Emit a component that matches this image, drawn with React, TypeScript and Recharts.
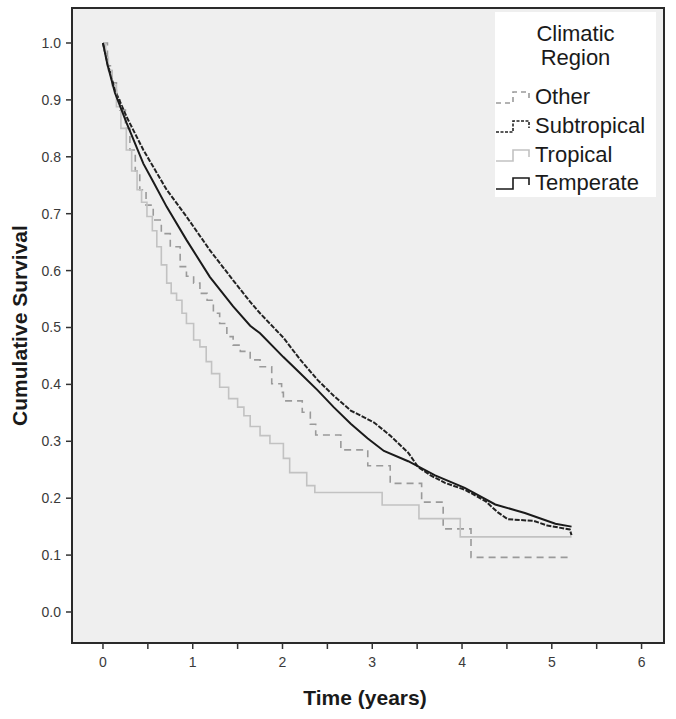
import React from "react";
import { LineChart, Line, XAxis, YAxis, ReferenceArea } from "recharts";

// ---- data ----
const seriesNames = ["Other", "Subtropical", "Tropical", "Temperate"];

const temperateT = [0, 0.05, 0.134, 0.264, 0.45, 0.56, 0.71, 0.93, 1.19, 1.45, 1.64, 1.75, 2.01, 2.2, 2.39, 2.57, 2.76, 2.95, 3.13, 3.4, 3.7, 4.03, 4.37, 4.7, 5.04, 5.22];
const temperateS = [1.0, 0.962, 0.912, 0.859, 0.788, 0.756, 0.712, 0.654, 0.589, 0.537, 0.503, 0.49, 0.448, 0.419, 0.39, 0.36, 0.331, 0.305, 0.283, 0.265, 0.24, 0.218, 0.189, 0.174, 0.155, 0.15];

const subtropicalT = [0, 0.05, 0.134, 0.264, 0.45, 0.71, 0.93, 1.19, 1.45, 1.64, 1.75, 2.01, 2.2, 2.39, 2.57, 2.76, 3.02, 3.2, 3.4, 3.51, 3.65, 3.81, 4.03, 4.26, 4.4, 4.51, 4.8, 4.95, 5.2, 5.22];
const subtropicalS = [1.0, 0.965, 0.917, 0.87, 0.812, 0.742, 0.695, 0.636, 0.583, 0.545, 0.525, 0.482, 0.443, 0.408, 0.38, 0.354, 0.333, 0.31, 0.28, 0.255, 0.24, 0.227, 0.215, 0.195, 0.175, 0.163, 0.16, 0.152, 0.145, 0.135];

const otherT = [0, 0.05, 0.1, 0.15, 0.19, 0.25, 0.3, 0.36, 0.41, 0.48, 0.56, 0.65, 0.75, 0.86, 0.93, 1.01, 1.08, 1.16, 1.23, 1.3, 1.38, 1.45, 1.53, 1.64, 1.75, 1.88, 1.99, 2.01, 2.22, 2.31, 2.37, 2.65, 2.95, 3.2, 3.55, 3.79, 4.1, 5.22];
const otherS = [1.0, 0.96, 0.93, 0.9, 0.882, 0.85, 0.812, 0.775, 0.742, 0.715, 0.689, 0.665, 0.642, 0.607, 0.59, 0.578, 0.56, 0.548, 0.525, 0.507, 0.484, 0.469, 0.458, 0.443, 0.431, 0.401, 0.386, 0.371, 0.351, 0.33, 0.311, 0.285, 0.257, 0.226, 0.193, 0.146, 0.096, 0.096];

const tropicalT = [0, 0.03, 0.06, 0.1, 0.15, 0.2, 0.26, 0.32, 0.38, 0.43, 0.49, 0.55, 0.6, 0.65, 0.71, 0.76, 0.82, 0.88, 0.93, 1.01, 1.08, 1.15, 1.21, 1.3, 1.4, 1.5, 1.57, 1.64, 1.75, 1.86, 2.01, 2.08, 2.27, 2.36, 3.11, 3.52, 3.98, 5.22];
const tropicalS = [1.0, 0.975, 0.952, 0.925, 0.888, 0.85, 0.812, 0.775, 0.742, 0.72, 0.695, 0.67, 0.642, 0.61, 0.578, 0.56, 0.548, 0.525, 0.507, 0.478, 0.466, 0.44, 0.419, 0.395, 0.375, 0.36, 0.345, 0.326, 0.31, 0.296, 0.27, 0.245, 0.222, 0.21, 0.188, 0.164, 0.132, 0.132];

const xTicks = [0, 0.5, 1, 1.5, 2, 2.5, 3, 3.5, 4, 4.5, 5, 5.5, 6];
const yTicks = [0, 0.1, 0.2, 0.3, 0.4, 0.5, 0.6, 0.7, 0.8, 0.9, 1.0];
const xDomain = [-0.345, 6.25];
const yDomain = [-0.0545, 1.0615];

const zip = (ts: number[], ss: number[]) => ts.map((t, i) => ({ t, s: ss[i] }));
const otherData = zip(otherT, otherS);
const subtropicalData = zip(subtropicalT, subtropicalS);
const tropicalData = zip(tropicalT, tropicalS);
const temperateData = zip(temperateT, temperateS);

const FONT = "'Liberation Sans', Arial, Helvetica, sans-serif";

const styles = [
  { color: "#9a9a9a", dash: "7 5", width: 1.6, type: "stepAfter" },
  { color: "#222222", dash: "5 1.5", width: 2, type: "linear" },
  { color: "#c2c2c2", dash: undefined, width: 1.6, type: "stepAfter" },
  { color: "#1a1a1a", dash: undefined, width: 2, type: "linear" },
];

const YTitle = (props: any) => {
  const vb = props.viewBox;
  const cx = vb.x + 19;
  const cy = vb.y + vb.height / 2;
  return (
    <text x={cx} y={cy} transform={`rotate(-90 ${cx} ${cy})`} textAnchor="middle" dominantBaseline="central"
      style={{ fontFamily: FONT, fontWeight: "bold", fontSize: 21, fill: "#1a1a1a" }}>
      Cumulative Survival
    </text>
  );
};

const XTitle = (props: any) => {
  const vb = props.viewBox;
  const cx = vb.x + vb.width / 2 - 3;
  const cy = vb.y + 54;
  return (
    <text x={cx} y={cy} textAnchor="middle" dominantBaseline="central"
      style={{ fontFamily: FONT, fontWeight: "bold", fontSize: 21, fill: "#1a1a1a" }}>
      Time (years)
    </text>
  );
};

const LegendBox = () => (
  <div style={{ position: "absolute", left: 495, top: 12, width: 161, height: 185, background: "#ffffff", fontFamily: FONT, color: "#1a1a1a" }}>
    <div style={{ textAlign: "center", fontSize: 22, lineHeight: "24px", paddingTop: 10 }}>
      Climatic<br />Region
    </div>
    <div style={{ marginTop: 13 }}>
      {seriesNames.map((n, i) => (
        <div key={n} style={{ display: "flex", alignItems: "center", height: 28.7 }}>
          <svg width={40} height={16} style={{ flex: "none" }}>
            <path d="M1 14 H18 V3 H34 V10" fill="none" stroke={styles[i].color} strokeWidth={1.6}
              strokeDasharray={i === 0 ? "5 4" : i === 1 ? "3 1.5" : undefined} />
          </svg>
          <span style={{ fontSize: 22, lineHeight: "24px" }}>{n}</span>
        </div>
      ))}
    </div>
  </div>
);

export default function App() {
  const datasets = [otherData, subtropicalData, tropicalData, temperateData];
  return (
    <div style={{ position: "absolute", left: 0, top: 0, width: 676, height: 719, background: "#ffffff" }}>
      <LineChart width={676} height={719} margin={{ top: 8, right: 12, bottom: 0, left: 0 }}>
        <XAxis dataKey="t" type="number" domain={xDomain} ticks={xTicks} allowDataOverflow
          height={76} axisLine={false} tickSize={6} tickMargin={8}
          tickLine={{ stroke: "#333", strokeWidth: 1.5 }}
          tick={{ fill: "#3a3a3a", fontSize: 14, fontFamily: FONT }}
          tickFormatter={(v: number) => (Number.isInteger(v) ? String(v) : "")}
          label={<XTitle />} />
        <YAxis type="number" domain={yDomain} ticks={yTicks} allowDataOverflow
          width={72} axisLine={false} tickSize={6} tickMargin={5}
          tickLine={{ stroke: "#333", strokeWidth: 1.5 }}
          tick={{ fill: "#3a3a3a", fontSize: 14, fontFamily: FONT }}
          tickFormatter={(v: number) => v.toFixed(1)}
          label={<YTitle />} />
        <ReferenceArea x1={xDomain[0]} x2={xDomain[1]} y1={yDomain[0]} y2={yDomain[1]}
          fill="#efefef" fillOpacity={1} stroke="#2a2a2a" strokeWidth={2} ifOverflow="extendDomain" />
        {datasets.map((d, i) => (
          <Line key={seriesNames[i]} data={d} dataKey="s" name={seriesNames[i]} type={styles[i].type as any}
            stroke={styles[i].color} strokeWidth={styles[i].width} strokeDasharray={styles[i].dash}
            dot={false} activeDot={false} isAnimationActive={false} />
        ))}
      </LineChart>
      <LegendBox />
    </div>
  );
}
